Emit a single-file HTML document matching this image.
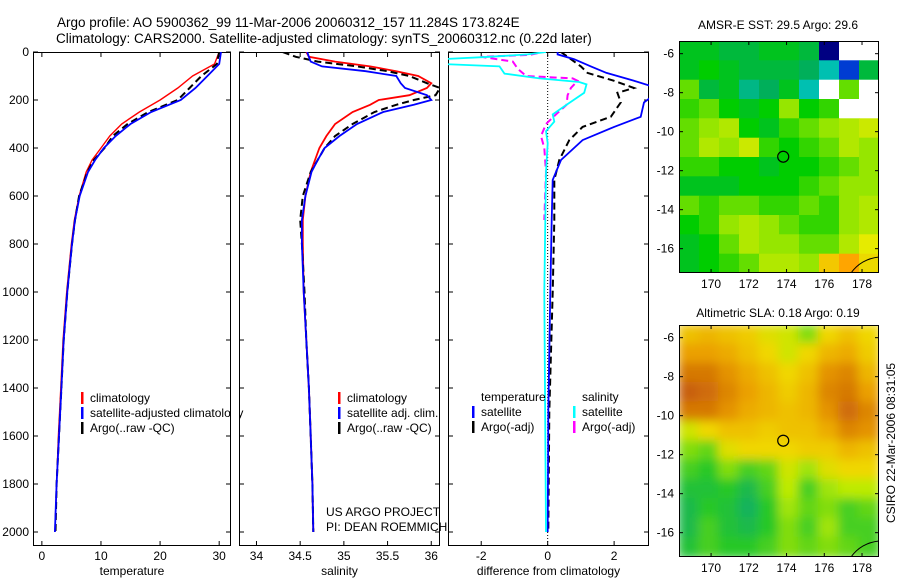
<!DOCTYPE html>
<html><head><meta charset="utf-8"><style>
html,body{margin:0;padding:0;background:#fff;}
svg{display:block;font-family:"Liberation Sans",sans-serif;}
</style></head><body>
<svg id="fig" width="900" height="580" viewBox="0 0 900 580">
<text x="57" y="27" font-size="13.5">Argo profile: AO 5900362_99 11-Mar-2006 20060312_157 11.284S 173.824E</text>
<text x="56" y="43" font-size="13.5">Climatology: CARS2000. Satellite-adjusted climatology: synTS_20060312.nc (0.22d later)</text>
<text x="778" y="29" font-size="12" text-anchor="middle">AMSR-E SST: 29.5 Argo: 29.6</text>
<text x="778" y="317" font-size="12" text-anchor="middle">Altimetric SLA: 0.18 Argo: 0.19</text>
<text transform="translate(895,443) rotate(-90)" font-size="12" text-anchor="middle">CSIRO 22-Mar-2006 08:31:05</text>
<text x="326" y="516" font-size="12">US ARGO PROJECT</text>
<text x="326" y="531" font-size="12">PI: DEAN ROEMMICH</text>
</svg>
<script>
// ---- profile data (depth in m) ----
const tDepth = [0,50,100,150,200,250,300,350,400,450,500,600,700,800,1000,1200,1400,1600,1800,2000];
const tClim  = [30,29.2,25.5,23,20,16.5,13.5,11.5,10,8.5,7.5,6.3,5.5,5,4.2,3.6,3.2,2.8,2.5,2.2];
const tSat   = [30.3,30,28,26,23.5,18.5,15,12.5,10.5,9,7.8,6.4,5.6,5.1,4.3,3.7,3.3,2.9,2.5,2.2];
const tArgo  = [30,29.6,27,25,23,18,14.5,12,10.6,8.8,7.7,6.3,5.6,5.1,4.3,3.7,3.3,2.9,2.5,2.3];
const sDepth = [0,20,40,60,80,100,130,150,180,200,220,250,300,350,400,450,500,600,700,800,1000,1200,1400,1600,1800,2000];
const sClim  = [34.57,34.6,34.9,35.3,35.6,35.85,36.0,35.95,35.75,35.4,35.3,35.1,34.9,34.8,34.72,34.67,34.62,34.56,34.53,34.53,34.54,34.57,34.6,34.62,34.64,34.65];
const sSat   = [34.58,34.6,34.62,34.75,35.25,35.6,35.65,35.7,35.95,36.0,35.8,35.45,35.15,34.95,34.78,34.7,34.63,34.56,34.52,34.52,34.54,34.57,34.6,34.62,34.64,34.65];
const sArgo  = [34.3,34.45,34.7,35.15,35.5,35.75,35.95,36.1,36.05,35.8,35.6,35.35,35.1,34.9,34.78,34.7,34.62,34.53,34.5,34.52,34.55,34.57,34.6,34.62,34.64,34.65];
const dDepth = [0,10,30,60,87,120,150,170,210,270,312,367,450,533,700,1000,1500,2000];
const dTSat  = [0.3,0.3,0.8,1.3,1.77,2.6,3.3,3.3,2.9,2.8,2.0,1.05,0.4,0.15,0.12,0.08,0.02,0];
const dTArgo = [0.4,0.5,0.7,1.0,1.2,2.0,2.6,2.1,2.2,1.9,1.05,0.65,0.35,0.2,0.2,0.15,0.05,0.02];
const cDepth = [0,10,20,30,50,60,90,110,125,135,170,220,260,290,330,380,500,1000,2000];
const dSSat  = [-0.05,-0.6,-1.75,-3.2,-3.2,-1.45,-1.3,-0.25,0.95,1.17,1.1,0.57,0.15,0.2,-0.05,0.0,-0.05,-0.1,-0.05];
const mDepth = [5,12,20,40,70,100,110,120,150,180,220,260,300,350,400,500,700];
const dSArgo = [-0.3,-0.55,-2.0,-1.05,-0.9,-0.65,0.75,0.9,0.7,0.6,0.57,0.25,-0.05,-0.2,-0.1,-0.05,-0.1];
const depthTicks = [0,200,400,600,800,1000,1200,1400,1600,1800,2000];
const tTicks = [0,10,20,30];
const sTicks = [34,34.5,35,35.5,36];
const sTickLabels = ['34','34.5','35','35.5','36'];
const dTicks = [-2,0,2];
// ---- map data ----
const lonTicks = [170,172,174,176,178];
const latTicks = [-6,-8,-10,-12,-14,-16];
const sstGrid = [
[29.3,29.3,29.2,29.2,29.3,29.3,29.2,27.8,null,null],
[29.3,29.4,29.3,29.2,29.2,29.2,29.1,28.9,28.3,29.2],
[29.6,29.2,29.3,29.0,29.1,29.3,28.9,null,29.6,null],
[29.5,29.6,29.4,29.3,29.4,29.7,29.4,29.5,null,null],
[29.6,29.7,29.8,29.4,29.3,29.5,29.6,29.7,29.8,29.9],
[29.6,29.8,29.7,29.9,29.5,29.4,29.5,29.6,29.8,29.7],
[29.5,29.5,29.4,29.4,29.3,29.4,29.4,29.5,29.6,29.7],
[29.3,29.3,29.3,29.4,29.4,29.4,29.5,29.6,29.7,29.7],
[29.6,29.5,29.6,29.6,29.5,29.5,29.6,29.5,29.7,29.8],
[29.4,29.5,29.7,29.8,29.7,29.6,29.5,29.5,29.7,29.8],
[29.3,29.4,29.6,29.8,29.7,29.7,29.6,29.6,29.8,30.0],
[29.3,29.4,29.5,29.6,29.8,29.8,29.7,30.2,30.4,30.1]];
const slaGrid = [
[.22,.23,.22,.21,.19,.18,.15,.20,.22,.20],
[.25,.25,.24,.22,.20,.18,.20,.23,.24,.21],
[.28,.28,.26,.24,.22,.20,.22,.26,.27,.23],
[.30,.29,.27,.25,.23,.21,.23,.27,.28,.25],
[.28,.28,.26,.24,.23,.22,.23,.26,.29,.27],
[.18,.20,.22,.22,.21,.22,.22,.24,.27,.26],
[.15,.14,.19,.20,.20,.20,.21,.21,.23,.22],
[.13,.12,.15,.13,.14,.18,.16,.19,.20,.20],
[.11,.11,.12,.10,.13,.17,.13,.16,.17,.17],
[.10,.12,.11,.09,.12,.16,.14,.15,.13,.14],
[.10,.13,.11,.10,.12,.15,.13,.16,.13,.13],
[.11,.13,.12,.12,.13,.15,.14,.15,.14,.13]];
const argoLon = 173.824, argoLat = -11.284;

const NS='http://www.w3.org/2000/svg';
const svg=document.getElementById('fig');
function mk(tag,attrs,parent){const e=document.createElementNS(NS,tag);for(const k in attrs)e.setAttribute(k,attrs[k]);(parent||svg).appendChild(e);return e;}
function txt(x,y,s,attrs){const e=mk('text',Object.assign({x:x,y:y,'font-size':12},attrs||{}));e.textContent=s;return e;}

const TOP=52, BOT=546, dScale=0.24;
const yD=d=>TOP+d*dScale;
const panels=[
 {x0:33,x1:231,v0:-1.5,v1:32,name:'temperature'},
 {x0:239,x1:440,v0:33.8,v1:36.1,name:'salinity'},
 {x0:448,x1:649,v0:-3.0,v1:3.05,name:'difference'}];
function xf(p){return v=>p.x0+(v-p.v0)/(p.v1-p.v0)*(p.x1-p.x0);}

function line(p,depths,vals,color,dash,w,name){
 const fx=xf(p);
 const pts=depths.map((d,i)=>fx(vals[i]).toFixed(1)+','+yD(d).toFixed(1)).join(' ');
 const e=mk('polyline',{points:pts,fill:'none',stroke:color,'stroke-width':w||1.6,'stroke-dasharray':dash||'none','clip-path':'url(#clip-'+p.name+')'});
 
 
}
const defs=mk('defs',{});
panels.forEach(p=>{
 const cp=mk('clipPath',{id:'clip-'+p.name},defs);
 mk('rect',{x:p.x0,y:TOP,width:p.x1-p.x0,height:BOT-TOP},cp);
});
function frame(p,ticks,labels,title,leftLabels){
 const fx=xf(p);
 const g=mk('g',{});
 
 
 mk('rect',{x:p.x0+0.5,y:TOP+0.5,width:p.x1-p.x0-1,height:BOT-TOP-1,fill:'none',stroke:'#000','stroke-width':1},g);
 ticks.forEach((t,i)=>{const x=fx(t);
  mk('line',{x1:x,x2:x,y1:BOT,y2:BOT-5,stroke:'#000'},g);
  mk('line',{x1:x,x2:x,y1:TOP,y2:TOP+5,stroke:'#000'},g);
  const l=txt(x,560,labels[i],{'text-anchor':'middle'});
  
  
 });
 depthTicks.forEach(d=>{const y=yD(d);
  mk('line',{x1:p.x0,x2:p.x0+5,y1:y,y2:y,stroke:'#000'},g);
  mk('line',{x1:p.x1-5,x2:p.x1,y1:y,y2:y,stroke:'#000'},g);
  if(leftLabels){const l=txt(p.x0-4,y+4,String(d),{'text-anchor':'end'});
   
   }
 });
 const tt=txt((p.x0+p.x1)/2,575,title,{'text-anchor':'middle'});
 
 
}
frame(panels[0],tTicks,tTicks.map(String),'temperature',true);
frame(panels[1],sTicks,sTickLabels,'salinity',false);
frame(panels[2],dTicks,dTicks.map(String),'difference from climatology',false);
{const x=xf(panels[2])(0);const z=mk('line',{x1:x,x2:x,y1:TOP,y2:BOT,stroke:'#000','stroke-dasharray':'1,2','stroke-width':1});
 
 }

line(panels[0],tDepth,tClim,'#f00',null,1.4,'temp-climatology-line');
line(panels[0],tDepth,tArgo,'#000','7,4',2,'temp-argo-line');
line(panels[0],tDepth,tSat,'#00f',null,1.8,'temp-satellite-line');
line(panels[1],sDepth,sClim,'#f00',null,1.8,'sal-climatology-line');
line(panels[1],sDepth,sArgo,'#000','7,4',2,'sal-argo-line');
line(panels[1],sDepth,sSat,'#00f',null,1.8,'sal-satellite-line');
line(panels[2],dDepth,dTArgo,'#000','7,4',2,'diff-temp-argo-line');
line(panels[2],dDepth,dTSat,'#00f',null,1.8,'diff-temp-satellite-line');
line(panels[2],mDepth,dSArgo,'#f0f','7,4',2,'diff-sal-argo-line');
line(panels[2],cDepth,dSSat,'#0ff',null,1.8,'diff-sal-satellite-line');

function legend(x,y,items){
 items.forEach((it,i)=>{
  const yy=y+i*15;
  const m=mk('rect',{x:x,y:yy-10,width:2.5,height:12,fill:it[0]});
  
  
  const t=txt(x+9,yy,it[1]);
  
  
 });
}
legend(81,402,[['#f00','climatology'],['#00f','satellite-adjusted climatology'],['#000','Argo(..raw -QC)']]);
legend(338,402,[['#f00','climatology'],['#00f','satellite adj. clim.'],['#000','Argo(..raw -QC)']]);
{const t=txt(481,401,'temperature');
 const s=txt(582,401,'salinity');}
legend(472,416,[['#00f','satellite'],['#000','Argo(-adj)']]);
legend(573,416,[['#0ff','satellite'],['#f0f','Argo(-adj)']]);
{const r=mk('rect',{x:231,y:390,width:8,height:45,fill:'#fff'});}

// ---- maps ----
function interp(stops,v){
 if(v<=stops[0][0])return 'rgb('+stops[0][1].join(',')+')';
 for(let i=1;i<stops.length;i++){if(v<=stops[i][0]){const a=stops[i-1],b=stops[i],f=(v-a[0])/(b[0]-a[0]);
  return 'rgb('+a[1].map((c,k)=>Math.round(c+(b[1][k]-c)*f)).join(',')+')';}}
 return 'rgb('+stops[stops.length-1][1].join(',')+')';
}
const sstStops=[[27.8,[0,0,130]],[28.3,[0,60,210]],[28.8,[0,200,220]],[29.1,[0,175,90]],[29.4,[0,205,0]],[29.7,[150,230,0]],[30.0,[230,235,0]],[30.4,[255,165,0]]];
const slaStops=[[0.08,[20,170,110]],[0.12,[40,200,40]],[0.17,[190,235,0]],[0.20,[240,215,0]],[0.25,[235,160,0]],[0.30,[200,95,10]]];
const MX0=679,MX1=879,LON0=168.3,LON1=178.9,LAT0=-5.35,LPX=19.5;
const lonX=l=>MX0+(l-LON0)/(LON1-LON0)*(MX1-MX0);
function map(top,bottom,grid,stops,name,blur){
 const cp=mk('clipPath',{id:'clip-'+name},defs);
 mk('rect',{x:MX0,y:top,width:MX1-MX0,height:bottom-top},cp);
 if(blur){const f=mk('filter',{id:'blur-'+name,x:'-10%',y:'-10%',width:'120%',height:'120%'},defs);mk('feGaussianBlur',{stdDeviation:5},f);}
 const g=mk('g',{'clip-path':'url(#clip-'+name+')'});
 
 
 const inner=mk('g',blur?{filter:'url(#blur-'+name+')'}:{},g);
 const rows=grid.length,cols=grid[0].length;
 const cw=(MX1-MX0)/cols,ch=(bottom-top)/rows;
 grid.forEach((row,r)=>row.forEach((v,c)=>{
  const cell=mk('rect',{x:(MX0+c*cw-(blur?1:0)).toFixed(1),y:(top+r*ch-(blur?1:0)).toFixed(1),width:(cw+0.6+(blur?2:0)).toFixed(1),height:(ch+0.6+(blur?2:0)).toFixed(1),fill:v===null?'#fff':interp(stops,v)},inner);
  
  
 }));
 const cst=mk('path',{d:'M'+(MX1-28)+','+bottom+' Q'+(MX1-18)+','+(bottom-14)+' '+MX1+','+(bottom-16),fill:'none',stroke:'#000','stroke-width':1},g);
 
 
 const fr=mk('rect',{x:MX0+0.5,y:top+0.5,width:MX1-MX0-1,height:bottom-top-1,fill:'none',stroke:'#000'});
 
 
 lonTicks.forEach(l=>{const x=lonX(l);
  mk('line',{x1:x,x2:x,y1:bottom,y2:bottom-4,stroke:'#000'});
  mk('line',{x1:x,x2:x,y1:top,y2:top+4,stroke:'#000'});
  const t=txt(x,bottom+15,String(l),{'text-anchor':'middle'});
  
  });
 latTicks.forEach(la=>{const y=top+(LAT0-la)*LPX;
  mk('line',{x1:MX0,x2:MX0+4,y1:y,y2:y,stroke:'#000'});
  mk('line',{x1:MX1-4,x2:MX1,y1:y,y2:y,stroke:'#000'});
  const t=txt(MX0-5,y+4,String(la),{'text-anchor':'end'});
  
  });
 const c=mk('circle',{cx:lonX(argoLon),cy:top+(LAT0-argoLat)*LPX,r:5.5,fill:'none',stroke:'#000','stroke-width':1.2});
 
 
}
map(41,273,sstGrid,sstStops,'sst-map',false);
map(325,557,slaGrid,slaStops,'sla-map',true);
</script>
</body></html>
